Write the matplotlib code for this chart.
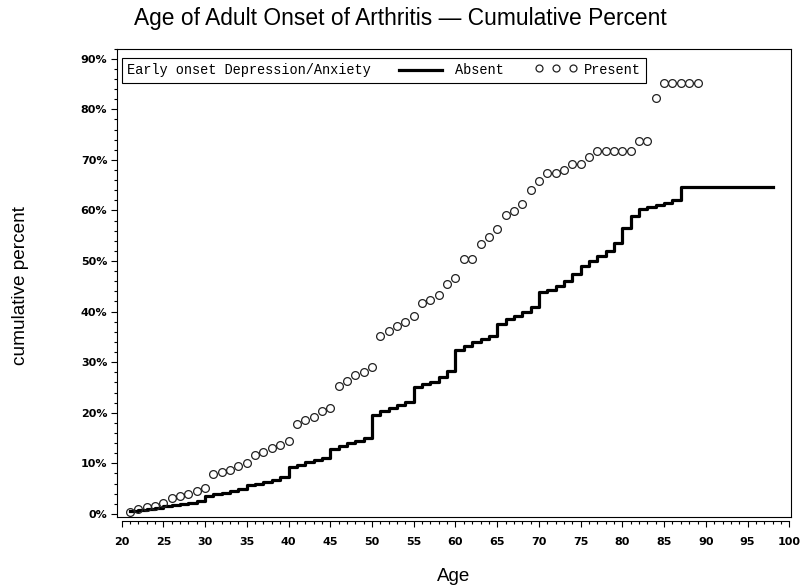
import matplotlib
matplotlib.use("Agg")
import matplotlib.pyplot as plt
from matplotlib.ticker import MultipleLocator, FuncFormatter
from matplotlib.offsetbox import AnchoredOffsetbox, HPacker, TextArea, DrawingArea
from matplotlib.lines import Line2D

# Early onset Depression/Anxiety: Present (circles)
present_age = list(range(21, 90))
present_pct = [0.4, 0.9, 1.3, 1.6, 2.2, 3.1, 3.6, 4.0, 4.6, 5.1,
               7.8, 8.2, 8.7, 9.4, 10.0, 11.7, 12.3, 13.0, 13.6, 14.5,
               17.8, 18.6, 19.2, 20.4, 21.0, 25.2, 26.2, 27.5, 28.1, 29.0,
               35.1, 36.1, 37.2, 38.0, 39.2, 41.7, 42.3, 43.3, 45.4, 46.6,
               50.4, 50.4, 53.4, 54.8, 56.3, 59.1, 59.9, 61.3, 64.1, 65.9,
               67.4, 67.4, 67.9, 69.1, 69.1, 70.5, 71.7, 71.7, 71.7, 71.7,
               71.7, 73.8, 73.8, 82.3, 85.2, 85.2, 85.2, 85.2, 85.2]

# Absent (step line)
absent_age = list(range(21, 88)) + [98]
absent_pct = [0.6, 0.8, 1.0, 1.2, 1.6, 1.8, 2.0, 2.2, 2.5, 3.6,
              3.9, 4.2, 4.5, 4.9, 5.7, 6.0, 6.4, 6.8, 7.3, 9.2,
              9.7, 10.2, 10.6, 11.1, 12.8, 13.4, 14.0, 14.5, 15.1, 19.6,
              20.3, 20.9, 21.5, 22.1, 25.1, 25.6, 26.1, 27.1, 28.2, 32.5,
              33.2, 34.0, 34.6, 35.2, 37.6, 38.5, 39.2, 39.9, 41.0, 43.8,
              44.3, 45.0, 46.0, 47.5, 49.0, 50.0, 51.0, 52.0, 53.5, 56.5,
              59.0, 60.3, 60.7, 61.1, 61.5, 62.0, 64.6, 64.6]

plt.rcParams["font.weight"] = "bold"

fig = plt.figure(figsize=(8, 5.87), dpi=100)
ax = fig.add_axes([0.14625, 0.1198, 0.8425, 0.7974])

ax.step(absent_age, absent_pct, where="post", color="black", lw=2.3)
ax.plot(present_age, present_pct, "o", mfc="none", mec="#222222", ms=5.6, mew=0.9)

ax.set_xlim(19.45, 100.2)
ax.set_ylim(-0.55, 92.0)

ax.xaxis.set_major_locator(MultipleLocator(5))
ax.xaxis.set_minor_locator(MultipleLocator(1))
ax.yaxis.set_major_locator(MultipleLocator(10))
ax.yaxis.set_minor_locator(MultipleLocator(2))
ax.yaxis.set_major_formatter(FuncFormatter(lambda v, p: f"{v:.0f}%"))

ax.tick_params(which="both", direction="out", top=False, right=False, width=0.8)
ax.tick_params(which="major", length=4.5, labelsize=8)
ax.tick_params(axis="x", which="major", pad=7)
ax.tick_params(axis="y", which="major", pad=2.5)
ax.tick_params(which="minor", length=2.5)

for s in ax.spines.values():
    s.set_linewidth(0.8)
ax.spines["bottom"].set_position(("outward", 3))
ax.spines["bottom"].set_bounds(20, 100)
# closing bottom edge of the frame
ax.plot([0, 1], [0, 0], transform=ax.transAxes, color="black", lw=0.8, clip_on=False)

fig.text(0.5, 0.968, "Age of Adult Onset of Arthritis \u2014 Cumulative Percent",
         ha="center", va="center", fontsize=16.4, family="Liberation Sans", weight="normal")
ax.set_xlabel("Age", fontsize=13.5, family="Liberation Sans", weight="normal", labelpad=15.5)
fig.text(0.026, 0.514, "cumulative percent", rotation=90, ha="center", va="center",
         fontsize=13.7, family="Liberation Sans", weight="normal")

# legend row
mono = dict(family="Liberation Mono", size=9.8, color="black", weight="normal")
t0 = TextArea("Early onset Depression/Anxiety", textprops=mono)
da_line = DrawingArea(60, 8)
da_line.add_artist(Line2D([20, 51], [4, 4], color="black", lw=2.3))
t1 = TextArea("Absent", textprops=mono)
da_circ = DrawingArea(58, 8)
for cx in (26, 38, 50):
    da_circ.add_artist(Line2D([cx], [6], marker="o", mfc="none", mec="#222222", ms=5, mew=0.9))
t2 = TextArea("Present", textprops=mono)
row = HPacker(children=[t0, da_line, t1, da_circ, t2], align="center", pad=0, sep=0)
box = AnchoredOffsetbox(loc="upper left", child=row, pad=0.4, borderpad=0, frameon=True,
                        bbox_to_anchor=(0.0074, 0.98), bbox_transform=ax.transAxes,
                        prop=dict(size=9.8))
box.patch.set_edgecolor("black")
box.patch.set_linewidth(0.8)
ax.add_artist(box)

fig.savefig("out.png", dpi=100)
